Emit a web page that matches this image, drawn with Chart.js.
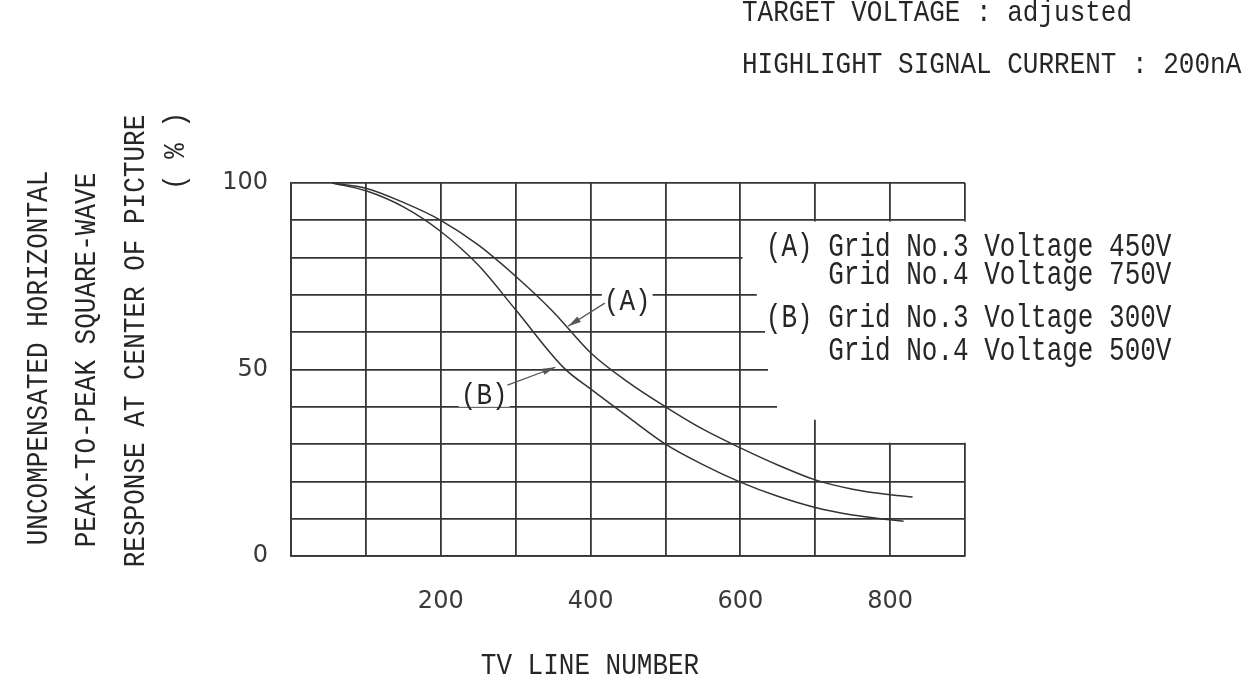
<!DOCTYPE html>
<html>
<head>
<meta charset="utf-8">
<script src="https://cdn.jsdelivr.net/npm/chart.js@4.4.1/dist/chart.umd.min.js"></script>
<style>
  html, body { margin: 0; padding: 0; background: #ffffff; }
  #wrap { width: 1260px; height: 683px; }
</style>
</head>
<body>
<div id="wrap"><canvas id="c" width="1260" height="683"></canvas></div>
<script>
// ---- data ----
const linesA_x = [55, 100, 150, 200, 250, 300, 350, 400, 450, 500, 550, 600, 650, 700, 750, 800, 830];
const linesA_y = [100, 98.6, 94.8, 90, 83.4, 75, 65.5, 54.5, 46.6, 40, 34, 29, 24.4, 20.4, 17.9, 16.4, 15.8];
const linesB_x = [55, 100, 150, 200, 250, 300, 365, 400, 450, 500, 550, 600, 650, 700, 750, 800, 818];
const linesB_y = [100, 97.9, 93.6, 87, 78, 66, 50.3, 44.8, 37.3, 30, 24.5, 19.8, 16, 13, 11, 9.7, 9.3];

const xTickLabels = [200, 400, 600, 800];
const yTickLabels = [0, 50, 100];

const headerLines = ['TARGET VOLTAGE : adjusted', 'HIGHLIGHT SIGNAL CURRENT : 200nA'];
const legendLines = ['(A) Grid No.3 Voltage 450V', '    Grid No.4 Voltage 750V', '(B) Grid No.3 Voltage 300V', '    Grid No.4 Voltage 500V'];
const yTitleLines = ['UNCOMPENSATED HORIZONTAL', 'PEAK-TO-PEAK SQUARE-WAVE', 'RESPONSE AT CENTER OF PICTURE', '( % )'];
const xTitle = 'TV LINE NUMBER';

// curve labels (A),(B) and their arrows, in data units
const curveLabels = ['(A)', '(B)'];
const curveLabelX = [449, 258];
const curveLabelY = [68.4, 43.2];
const arrowFromX = [419, 289];
const arrowFromY = [67.8, 45.8];
const arrowToX = [370, 353];
const arrowToY = [61.6, 50.6];

// part of the grid hidden behind the legend text (data units polygon)
const maskX = [603, 930, 930, 702, 702, 698, 698, 649, 649, 637, 637, 633, 633, 622, 622, 603];
const maskY = [89.7, 89.7, 30.35, 30.35, 36.5, 36.5, 30.35, 30.35, 45, 45, 55, 55, 65, 65, 75, 75];

// ---- styling ----
const INK = '#262626';
const GRID = '#363636';
const TYPE_FONT = '26px "Liberation Mono", "DejaVu Sans Mono", monospace';
const NUM_FONT = { family: '"DejaVu Sans", "Noto Sans", sans-serif', size: 24 };

function typeText(ctx, text, x, y, rot, align, sy) {
  ctx.save();
  ctx.translate(x, y);
  if (rot) ctx.rotate(rot);
  ctx.scale(1, sy || 1.15);
  ctx.font = TYPE_FONT;
  ctx.fillStyle = INK;
  ctx.textAlign = align || 'left';
  ctx.textBaseline = 'alphabetic';
  ctx.fillText(text, 0, 0);
  ctx.restore();
}

const decor = {
  id: 'decor',
  beforeDraw(chart) {
    const ctx = chart.ctx;
    ctx.save();
    ctx.fillStyle = '#ffffff';
    ctx.fillRect(0, 0, chart.width, chart.height);
    ctx.restore();
  },
  beforeDatasetsDraw(chart) {
    const ctx = chart.ctx;
    const xs = chart.scales.x, ys = chart.scales.y;
    ctx.save();
    ctx.fillStyle = '#ffffff';
    ctx.beginPath();
    for (let i = 0; i < maskX.length; i++) {
      const px = xs.getPixelForValue(maskX[i]);
      const py = ys.getPixelForValue(maskY[i]);
      if (i === 0) ctx.moveTo(px, py); else ctx.lineTo(px, py);
    }
    ctx.closePath();
    ctx.fill();
    ctx.font = TYPE_FONT;
    for (let i = 0; i < curveLabels.length; i++) {
      const px = xs.getPixelForValue(curveLabelX[i]);
      const py = ys.getPixelForValue(curveLabelY[i]);
      const w = ctx.measureText(curveLabels[i]).width;
      ctx.fillRect(px - w / 2 - 2, py - 12, w + 4, 24);
    }
    ctx.restore();
  },
  afterDraw(chart) {
    const ctx = chart.ctx;
    const xs = chart.scales.x, ys = chart.scales.y;
    // header
    typeText(ctx, headerLines[0], 742, 21);
    typeText(ctx, headerLines[1], 742, 73);
    // legend
    const lx = xs.getPixelForValue(634);
    const lb = [256, 284, 327, 360];
    for (let i = 0; i < legendLines.length; i++) typeText(ctx, legendLines[i], lx, lb[i], 0, 'left', 1.25);
    // y titles (rotated)
    const tx = [47, 95, 144, 184];
    const ty = [358, 360, 341, 151];
    for (let i = 0; i < yTitleLines.length; i++) typeText(ctx, yTitleLines[i], tx[i], ty[i], -Math.PI / 2, 'center');
    // x title
    typeText(ctx, xTitle, 590, 674, 0, 'center');
    // curve labels
    for (let i = 0; i < curveLabels.length; i++) {
      const px = xs.getPixelForValue(curveLabelX[i]);
      const py = ys.getPixelForValue(curveLabelY[i]);
      typeText(ctx, curveLabels[i], px, py + 9, 0, 'center');
    }
    // arrows
    ctx.save();
    ctx.strokeStyle = '#555555';
    ctx.fillStyle = '#555555';
    ctx.lineWidth = 1.3;
    for (let i = 0; i < arrowFromX.length; i++) {
      const x1 = xs.getPixelForValue(arrowFromX[i]), y1 = ys.getPixelForValue(arrowFromY[i]);
      const x2 = xs.getPixelForValue(arrowToX[i]), y2 = ys.getPixelForValue(arrowToY[i]);
      ctx.beginPath(); ctx.moveTo(x1, y1); ctx.lineTo(x2, y2); ctx.stroke();
      const a = Math.atan2(y2 - y1, x2 - x1);
      const L = 13, W = 3.2;
      ctx.beginPath();
      ctx.moveTo(x2, y2);
      ctx.lineTo(x2 - L * Math.cos(a) + W * Math.sin(a), y2 - L * Math.sin(a) - W * Math.cos(a));
      ctx.lineTo(x2 - L * Math.cos(a) - W * Math.sin(a), y2 - L * Math.sin(a) + W * Math.cos(a));
      ctx.closePath();
      ctx.fill();
    }
    ctx.restore();
  }
};

const toPts = (xs, ys) => xs.map((x, i) => ({ x: x, y: ys[i] }));

new Chart(document.getElementById('c'), {
  type: 'line',
  data: {
    datasets: [
      { label: '(A)', data: toPts(linesA_x, linesA_y), borderColor: '#333333', borderWidth: 1.5,
        pointRadius: 0, fill: false, cubicInterpolationMode: 'monotone' },
      { label: '(B)', data: toPts(linesB_x, linesB_y), borderColor: '#333333', borderWidth: 1.5,
        pointRadius: 0, fill: false, cubicInterpolationMode: 'monotone' }
    ]
  },
  options: {
    responsive: false,
    animation: false,
    devicePixelRatio: 1,
    events: [],
    layout: { padding: { left: 0, top: 183, right: 295, bottom: 67 } },
    plugins: { legend: { display: false }, tooltip: { enabled: false }, title: { display: false } },
    scales: {
      x: {
        type: 'linear', min: 0, max: 900,
        afterFit(s) { s.height = 60; },
        grid: { color: GRID, lineWidth: 1.8, drawTicks: false },
        border: { color: GRID, width: 1.8 },
        ticks: {
          stepSize: 100, autoSkip: false, maxRotation: 0, padding: 31,
          color: '#3a3a3a', font: NUM_FONT,
          callback: v => (xTickLabels.includes(v) ? String(v) : '')
        }
      },
      y: {
        type: 'linear', min: 0, max: 100,
        afterFit(s) { s.width = 291; },
        grid: { color: GRID, lineWidth: 1.8, drawTicks: false },
        border: { color: GRID, width: 1.8 },
        ticks: {
          stepSize: 10, autoSkip: false, padding: 23,
          color: '#3a3a3a', font: NUM_FONT,
          callback: v => (yTickLabels.includes(v) ? String(v) : '')
        }
      }
    }
  },
  plugins: [decor]
});
</script>
</body>
</html>
